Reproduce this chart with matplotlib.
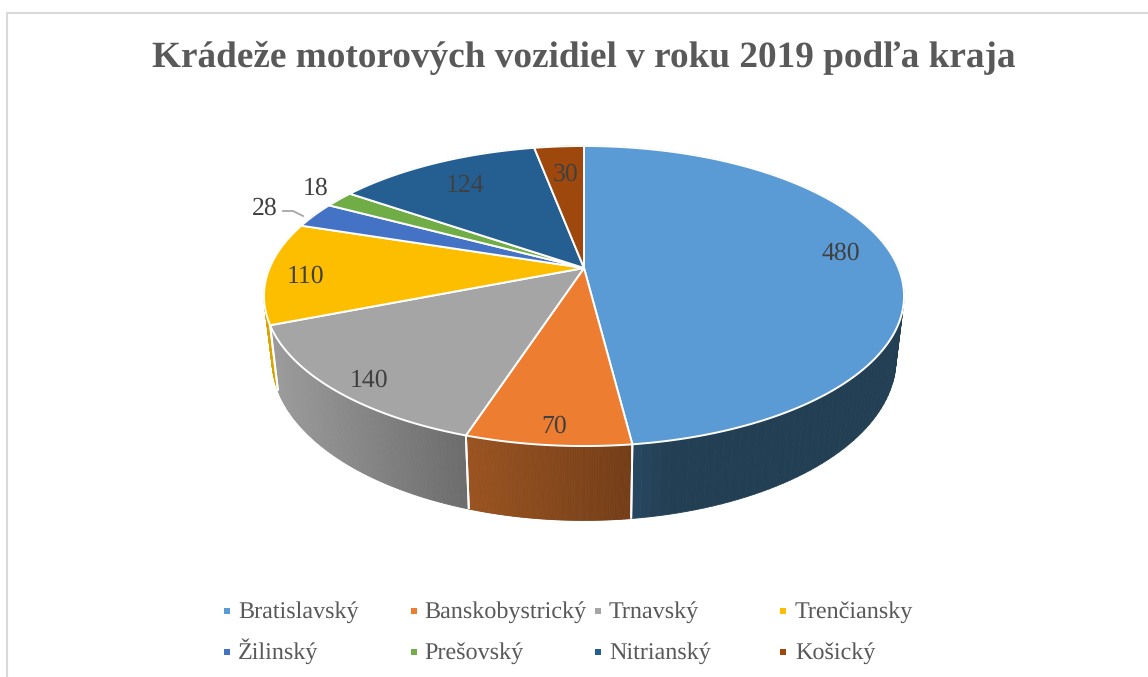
import numpy as np
import matplotlib
matplotlib.use("Agg")
import matplotlib.pyplot as plt
from matplotlib.collections import PolyCollection
from matplotlib.colors import to_rgb

# Data
regions = ["Bratislavský", "Banskobystrický", "Trnavský", "Trenčiansky",
           "Žilinský", "Prešovský", "Nitrianský", "Košický"]
values = [480, 70, 140, 110, 28, 18, 124, 30]
colors = ["#5B9BD5", "#ED7D31", "#A5A5A5", "#FDBE00",
          "#4472C4", "#70AD47", "#255E91", "#9E480E"]
side_left = ["#2F5475", "#9A5320", "#9C9C9C", "#D9A400",
             "#2F4F85", "#4E7A31", "#1A4365", "#6E3209"]
side_right = ["#233F54", "#733D17", "#6C6C6C", "#D9A400",
              "#2F4F85", "#4E7A31", "#1A4365", "#6E3209"]

plt.rcParams["font.family"] = ["Liberation Serif", "DejaVu Serif"]
plt.rcParams["text.hinting"] = "no_hinting"

fig = plt.figure(figsize=(11.48, 6.77), dpi=100)
ax = fig.add_axes([0, 0, 1, 1])
ax.set_xlim(0, 1148)
ax.set_ylim(677, 0)
ax.axis("off")

# frame of the pasted chart, cut off on the right
ax.plot([7, 7, 1148], [677, 13, 13], color="#D9D9D9", lw=1.5)


# perspective view of the round pie
CX, CY = 584, 268
PERSP = 0.1867


def top_rim(a):
    w = 1 - PERSP * -np.cos(a)
    return CX + 314.4 * np.sin(a) / w, CY + 144.8 * -np.cos(a) / w


def bottom_rim(a):
    x, y = top_rim(a)
    return CX + 0.975 * (x - CX), CY + 61 + 1.075 * (y - CY)


edges = np.cumsum([0] + values) / sum(values) * 2 * np.pi

# sides first, back ones first, so the front ones stay on top
for i in [4, 5, 6, 7, 3, 0, 2, 1]:
    a = np.linspace(edges[i], edges[i + 1], 120)
    xt, yt = top_rim(a)
    xb, yb = bottom_rim(a)
    quads = [[(xt[j], yt[j]), (xt[j + 1], yt[j + 1]), (xb[j + 1], yb[j + 1]), (xb[j], yb[j])]
             for j in range(len(a) - 1)]
    # shade runs over the visible part of the side
    lo, hi = xt.min(), min(xt.max(), xt.min() + 200)
    if i == 0:
        # the big slice goes flat soon after its front corner
        hi = lo + 90
    f = np.clip((xt[:-1] - lo) / (hi - lo), 0, 1)
    c0, c1 = np.array(to_rgb(side_left[i])), np.array(to_rgb(side_right[i]))
    shade = [tuple(c0 + (c1 - c0) * v) for v in f]
    ax.add_collection(PolyCollection(quads, facecolors=shade, edgecolors=shade, linewidths=0.6))
    for e in (a[0], a[-1]):
        if np.cos(e) < 0.3:
            xa, ya = top_rim(e)
            xc, yc = bottom_rim(e)
            ax.plot([xa, xc], [ya, yc], color="white", lw=1.4, solid_capstyle="butt")

# top faces
for i in range(len(values)):
    a = np.linspace(edges[i], edges[i + 1], 200)
    xt, yt = top_rim(a)
    ax.fill(np.r_[CX, xt], np.r_[CY, yt], facecolor=colors[i], edgecolor="white", lw=1.4, joinstyle="round")

# data labels
label_x = [841, 554, 369, 306, 265, 316, 465, 566]
label_y = [253, 426, 380, 276, 208, 188, 186, 174]
for v, x, y in zip(values, label_x, label_y):
    ax.text(x, y, str(v), fontsize=18.5, color="#404040", ha="center", va="center")
ax.plot([283, 293, 303], [211, 211, 216], color="#A6A6A6", lw=1.3)

ax.text(584, 58, "Krádeže motorových vozidiel v roku 2019 podľa kraja", fontsize=26.85, fontweight="bold",
        color="#595959", ha="center", va="center")

# legend, two rows of four
for i, name in enumerate(regions):
    lx = [227, 414, 598, 783][i % 4]
    tx = [238, 424, 609, 795][i % 4]
    ly = [611, 652][i // 4]
    ax.scatter([lx], [ly], marker="s", s=24, color=colors[i], linewidths=0)
    ax.text(tx, ly + 7, name, fontsize=17.4, color="#595959", ha="left", va="baseline")

fig.savefig("out.png", dpi=100, facecolor="white")
